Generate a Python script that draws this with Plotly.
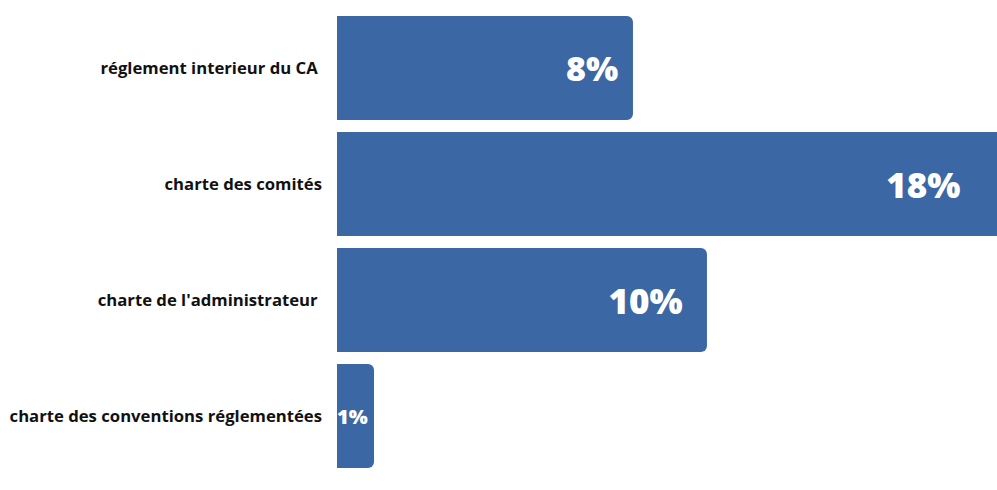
import plotly.graph_objects as go

# Survey categories, top to bottom
categories = [
    "réglement interieur du CA ",
    "charte des comités",
    "charte de l'administrateur ",
    "charte des conventions réglementées",
]
# Share of respondents (%)
values = [8, 18, 10, 1]

BAR_COLOR = "#3B67A5"
value_font_sizes = [34, 35, 35, 24]
# trailing non-breaking spaces that keep each value label off the bar end
value_label_pad = [1, 4, 2, 0]

value_labels = [f"{v}%" + "\u00a0" * p for v, p in zip(values, value_label_pad)]

fig = go.Figure(
    go.Bar(
        x=values,
        y=categories,
        orientation="h",
        marker=dict(color=BAR_COLOR, line=dict(width=0)),
        text=value_labels,
        textposition="inside",
        insidetextanchor="end",
        constraintext="none",
        textangle=0,
        textfont=dict(family="Open Sans", size=value_font_sizes, color="white", weight=800),
        hoverinfo="skip",
    )
)

fig.update_layout(
    width=997,
    height=490,
    margin=dict(l=337, r=0, t=10, b=16),
    paper_bgcolor="white",
    plot_bgcolor="white",
    bargap=0.103,
    barcornerradius=6,
    showlegend=False,
    xaxis=dict(range=[0, 17.84], visible=False, fixedrange=True),
    yaxis=dict(
        categoryorder="array",
        categoryarray=categories,
        autorange="reversed",
        showgrid=False,
        showline=False,
        zeroline=False,
        ticks="",
        ticklabelstandoff=14,
        tickfont=dict(family="Open Sans", size=16.7, color="#111111", weight=700),
        fixedrange=True,
    ),
)

fig.write_html("out.html")
